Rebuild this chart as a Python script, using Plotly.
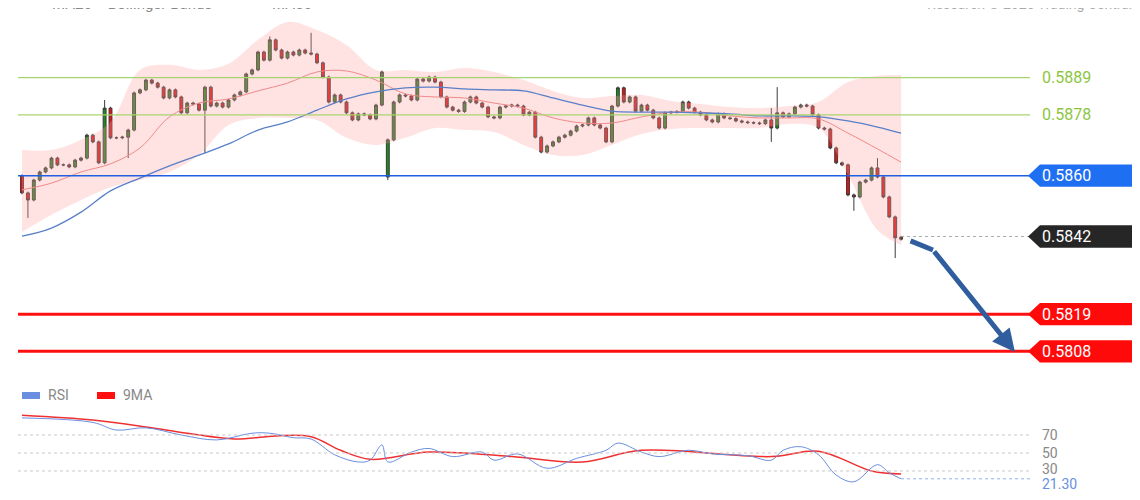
import plotly.graph_objects as go

# close prices, one per candle
closes = [
    0.58549, 0.58528, 0.58587, 0.58611, 0.58623, 0.58652, 0.58632, 0.58632, 0.58626, 0.58646,
    0.58652, 0.58720, 0.58700, 0.58638, 0.58800, 0.58712, 0.58712, 0.58714, 0.58735, 0.58845,
    0.58854, 0.58883, 0.58874, 0.58862, 0.58830, 0.58854, 0.58833, 0.58786, 0.58815, 0.58812,
    0.58794, 0.58862, 0.58806, 0.58815, 0.58803, 0.58824, 0.58839, 0.58848, 0.58901, 0.58913,
    0.58966, 0.58942, 0.59002, 0.58972, 0.58948, 0.58966, 0.58957, 0.58972, 0.58963, 0.58960,
    0.58934, 0.58892, 0.58818, 0.58839, 0.58818, 0.58786, 0.58765, 0.58783, 0.58780, 0.58768,
    0.58809, 0.58907, 0.58706, 0.58818, 0.58839, 0.58836, 0.58824, 0.58886, 0.58880, 0.58892,
    0.58877, 0.58833, 0.58803, 0.58794, 0.58790, 0.58818, 0.58833, 0.58815, 0.58803, 0.58774,
    0.58771, 0.58803, 0.58806, 0.58809, 0.58806, 0.58780, 0.58788, 0.58714, 0.58670, 0.58688,
    0.58700, 0.58714, 0.58720, 0.58732, 0.58747, 0.58750, 0.58771, 0.58750, 0.58741, 0.58700,
    0.58806, 0.58860, 0.58818, 0.58833, 0.58791, 0.58809, 0.58794, 0.58771, 0.58741, 0.58786,
    0.58788, 0.58790, 0.58818, 0.58800, 0.58788, 0.58780, 0.58765, 0.58759, 0.58783, 0.58771,
    0.58769, 0.58762, 0.58759, 0.58757, 0.58756, 0.58754, 0.58765, 0.58741, 0.58786, 0.58774,
    0.58783, 0.58803, 0.58809, 0.58806, 0.58780, 0.58741, 0.58738, 0.58682, 0.58638, 0.58632,
    0.58543, 0.58537, 0.58581, 0.58587, 0.58623, 0.58596, 0.58537, 0.58478, 0.58416, 0.58412,
]
first_open = 0.58600
gap_opens = {62: 0.58596, 149: 0.58418}
high_marks = {14: 0.58824, 49: 0.59023, 127: 0.58800, 128: 0.58862, 145: 0.58652, 42: 0.59012}
low_marks = {1: 0.58475, 18: 0.58652, 31: 0.58667, 62: 0.58587, 127: 0.58700, 141: 0.58496, 148: 0.58356}
wick = 0.00004

# indicator samples every 5 candles, in pips above 0.5800
ind_idx = [0, 5, 10, 15, 20, 25, 30, 35, 40, 45, 50, 55, 60, 65, 70, 75, 80, 85, 90, 95,
           100, 105, 110, 115, 120, 125, 130, 135, 140, 145, 149]
ma50_pips = [42.1, 44.5, 49.2, 55.5, 59.3, 62.9, 66.1, 69.4, 73.5, 75.9, 79.4, 82.7, 84.8, 86.0,
             86.2, 85.7, 85.4, 85.1, 83.0, 80.9, 79.1, 78.8, 78.8, 78.6, 78.3, 77.7, 77.7, 77.4,
             76.2, 74.4, 72.6]
ma20_pips = [55.8, 57.8, 61.1, 63.5, 68.2, 77.4, 81.5, 82.7, 85.1, 87.4, 90.7, 91.0, 88.3, 84.2,
             83.3, 83.0, 81.5, 80.0, 77.1, 75.6, 75.6, 77.4, 78.8, 78.8, 77.7, 77.1, 77.1, 76.8,
             72.6, 67.9, 64.0]
bb_up_pips = [67.6, 67.6, 70.6, 75.9, 91.3, 92.8, 91.3, 93.1, 100.2, 105.5, 103.1, 98.7, 91.3,
              91.3, 90.7, 91.9, 90.7, 88.3, 85.1, 83.0, 83.6, 83.9, 82.1, 81.2, 80.3, 80.0, 80.6,
              81.8, 87.7, 89.5, 89.8]
bb_dn_pips = [43.3, 48.4, 52.8, 56.6, 58.7, 61.1, 66.1, 75.0, 77.1, 77.1, 76.5, 71.2, 69.1, 71.2,
              74.1, 73.5, 72.9, 69.1, 66.1, 66.1, 69.1, 72.3, 73.8, 74.1, 74.1, 74.1, 75.3, 74.1,
              60.2, 43.9, 39.5]

rsi_idx = [0, 12, 16, 21, 27, 33, 39, 42, 46, 49, 53, 57, 59, 61, 62, 66, 69, 73, 78, 80, 84,
           89, 94, 99, 101, 105, 108, 113, 117, 123, 127, 129, 132, 135, 138, 141, 145, 147, 149]
rsi_vals = [89, 84, 75.5, 78, 70, 64.5, 72, 72, 67, 65.5, 48, 40, 42, 59, 40, 51, 55, 46, 51, 42,
            49, 33, 44, 53, 61, 51, 46, 53, 49, 47, 42, 53, 57, 48, 25.5, 18, 37, 28, 21.3]
ma9_idx = [0, 12, 21, 28, 36, 43, 49, 54, 59, 69, 83, 95, 105, 127, 135, 144, 149]
ma9_vals = [92, 86.7, 79, 72, 65.5, 69, 68, 53, 43, 51, 46, 40, 53, 46, 52, 30, 26.7]

green_levels = [0.5889, 0.5878]
pivot = 0.5860
last_price = 0.5842
supports = [0.5819, 0.5808]
rsi_levels = [70, 50, 30]
rsi_last = 21.30

BASE = 0.58
opens = [first_open] + closes[:-1]
for k, v in gap_opens.items():
    opens[k] = v
n = len(closes)
x = list(range(n))
highs = [high_marks.get(i, max(opens[i], closes[i]) + wick) for i in x]
lows = [low_marks.get(i, min(opens[i], closes[i]) - wick) for i in x]
to_px = lambda arr: [BASE + p / 10000 for p in arr]

XMAX = 170.85
fig = go.Figure()

# Bollinger band fill
fig.add_trace(go.Scatter(x=ind_idx, y=to_px(bb_up_pips), mode="lines", line=dict(width=0, shape="spline"),
                         hoverinfo="skip", showlegend=False))
fig.add_trace(go.Scatter(x=ind_idx, y=to_px(bb_dn_pips), mode="lines", line=dict(width=0, shape="spline"),
                         fill="tonexty", fillcolor="rgba(255,160,160,0.30)", hoverinfo="skip", showlegend=False))

for lv in green_levels:
    fig.add_shape(type="line", x0=-0.68, x1=XMAX, y0=lv, y1=lv, line=dict(color="#a8d46f", width=1.2))
fig.add_shape(type="line", x0=-0.68, x1=XMAX, y0=pivot, y1=pivot, line=dict(color="#1f5fe0", width=1.5))
for lv in supports:
    fig.add_shape(type="line", x0=-0.68, x1=XMAX, y0=lv, y1=lv, line=dict(color="#ff1010", width=3))
fig.add_shape(type="line", x0=n - 1, x1=XMAX, y0=last_price, y1=last_price,
              line=dict(color="#aaaaaa", width=1, dash="dot"))

fig.add_trace(go.Scatter(x=ind_idx, y=to_px(ma20_pips), mode="lines",
                         line=dict(color="#f08a8a", width=1, shape="spline"), showlegend=False))
fig.add_trace(go.Scatter(x=ind_idx, y=to_px(ma50_pips), mode="lines",
                         line=dict(color="#5a7fc9", width=1.3, shape="spline"), showlegend=False))

fig.add_trace(go.Candlestick(
    x=x, open=opens, high=highs, low=lows, close=closes, whiskerwidth=0,
    increasing=dict(line=dict(color="#3a3a3a", width=1), fillcolor="#1e8a1e"),
    decreasing=dict(line=dict(color="#3a3a3a", width=1), fillcolor="#e81010"),
    showlegend=False,
))

# forecast arrow
fig.add_shape(type="line", x0=150.6, x1=154.4, y0=0.58407, y1=0.58380,
              line=dict(color="#2f5d9e", width=5))
fig.add_annotation(x=168.3, y=0.58078, ax=154.4, ay=0.58380, xref="x", yref="y", axref="x", ayref="y",
                   showarrow=True, arrowhead=2, arrowsize=0.9, arrowwidth=5, arrowcolor="#2f5d9e", text="")

# RSI pane
for lv in rsi_levels:
    fig.add_shape(type="line", x0=-0.68, x1=XMAX, y0=lv, y1=lv, xref="x2", yref="y2",
                  line=dict(color="#c8c8c8", width=1, dash="dot"))
fig.add_shape(type="line", x0=n - 1, x1=XMAX, y0=rsi_last, y1=rsi_last, xref="x2", yref="y2",
              line=dict(color="#8fb0f0", width=1, dash="dot"))
fig.add_trace(go.Scatter(x=ma9_idx, y=ma9_vals, mode="lines", xaxis="x2", yaxis="y2",
                         line=dict(color="#f03030", width=1.5, shape="spline"), showlegend=False))
fig.add_trace(go.Scatter(x=rsi_idx, y=rsi_vals, mode="lines", xaxis="x2", yaxis="y2",
                         line=dict(color="#6a8fe0", width=1, shape="spline"), showlegend=False))

# page is shown with an 8px body margin, so screen px = figure px + 8
OFF = 8


def px_x(px):
    return (px - 18) / 1012


def px_y(py):
    return 1 - (py - OFF) / 500


def tag(price, color):
    x0, xn, x1, h = px_x(1028), px_x(1040), px_x(1136), 0.00033
    fig.add_shape(type="path", xref="paper", yref="y", line=dict(width=0), fillcolor=color,
                  path=f"M {x0} {price} L {xn} {price + h} L {x1} {price + h} L {x1} {price - h} "
                       f"L {xn} {price - h} Z")
    fig.add_annotation(x=px_x(1040), y=price, xref="paper", yref="y", text=f"{price:.4f}", showarrow=False,
                       xanchor="left", yanchor="middle", font=dict(color="white", size=16))


for lv in green_levels:
    fig.add_annotation(x=px_x(1040), y=lv, xref="paper", yref="y", text=f"{lv:.4f}",
                       showarrow=False, xanchor="left", yanchor="middle", font=dict(color="#8cc63f", size=16))
tag(pivot, "#1f6ff2")
tag(last_price, "#262626")
tag(supports[0], "#ff0a0a")
tag(supports[1], "#ff0a0a")

for lv in rsi_levels:
    fig.add_annotation(x=px_x(1040), y=lv + (2 if lv == 30 else 0), xref="paper", yref="y2", text=str(lv),
                       showarrow=False, xanchor="left", yanchor="middle", font=dict(color="#888", size=14))
fig.add_annotation(x=px_x(1040), y=rsi_last - 6, xref="paper", yref="y2", text=f"{rsi_last:.2f}",
                   showarrow=False, xanchor="left", yanchor="middle", bgcolor="white",
                   font=dict(color="#6a8fe0", size=14))

# top legend, cut by the top edge like the source
fig.add_shape(type="rect", xref="paper", yref="paper", x0=px_x(22), x1=px_x(40), y0=px_y(6), y1=px_y(-2),
              fillcolor="#f8b0b0", line=dict(width=0))
fig.add_annotation(x=px_x(50), y=px_y(4), xref="paper", yref="paper", text="MA20 + Bollinger Bands",
                   showarrow=False, xanchor="left", yanchor="middle", font=dict(color="#888", size=15))
fig.add_shape(type="rect", xref="paper", yref="paper", x0=px_x(240), x1=px_x(260), y0=px_y(6), y1=px_y(-2),
              fillcolor="#5a7fc9", line=dict(width=0))
fig.add_annotation(x=px_x(270), y=px_y(4), xref="paper", yref="paper", text="MA50",
                   showarrow=False, xanchor="left", yanchor="middle", font=dict(color="#888", size=15))
fig.add_annotation(x=px_x(1134), y=px_y(4), xref="paper", yref="paper", text="Research © 2025 Trading Central",
                   showarrow=False, xanchor="right", yanchor="middle", font=dict(color="#aaa", size=14))

fig.add_shape(type="rect", xref="paper", yref="paper", x0=px_x(22), x1=px_x(40), y0=px_y(399), y1=px_y(392),
              fillcolor="#6a8fe0", line=dict(width=0))
fig.add_annotation(x=px_x(46), y=px_y(395), xref="paper", yref="paper", text="RSI",
                   showarrow=False, xanchor="left", yanchor="middle", font=dict(color="#888", size=14))
fig.add_shape(type="rect", xref="paper", yref="paper", x0=px_x(97), x1=px_x(115), y0=px_y(399), y1=px_y(392),
              fillcolor="#ff1010", line=dict(width=0))
fig.add_annotation(x=px_x(121), y=px_y(395), xref="paper", yref="paper", text="9MA",
                   showarrow=False, xanchor="left", yanchor="middle", font=dict(color="#888", size=14))

PX = 0.0000296  # price per screen pixel in the source
price_top = 0.5912 - OFF * PX
price_bot = 0.5912 - 375 * PX
fig.update_layout(
    width=1140, height=500,
    margin=dict(l=10, r=118, t=0, b=0),
    plot_bgcolor="white", paper_bgcolor="white",
    font=dict(family="Roboto, Arial, sans-serif"),
    xaxis=dict(range=[-0.68, XMAX], visible=False, rangeslider=dict(visible=False)),
    yaxis=dict(range=[price_bot, price_top], domain=[1 - 367 / 500, 1], visible=False),
    xaxis2=dict(range=[-0.68, XMAX], visible=False, anchor="y2"),
    yaxis2=dict(range=[3.3, 108.9], domain=[13 / 500, 108 / 500], visible=False, anchor="x2"),
    showlegend=False,
)

fig.write_html("out.html")
